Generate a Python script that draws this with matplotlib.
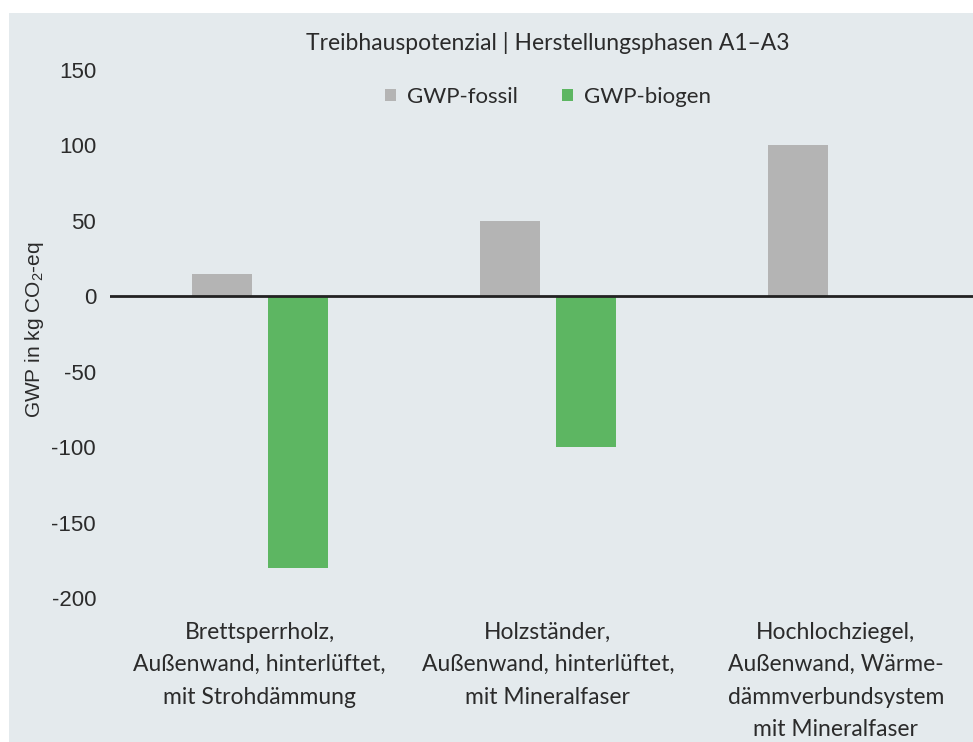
import matplotlib
matplotlib.use("Agg")
import matplotlib.pyplot as plt
from matplotlib.patches import Rectangle
import numpy as np

# Daten: GWP je Außenwandaufbau (Herstellungsphasen A1-A3)
categories = [
    "Brettsperrholz,\nAußenwand, hinterlüftet,\nmit Strohdämmung",
    "Holzständer,\nAußenwand, hinterlüftet,\nmit Mineralfaser",
    "Hochlochziegel,\nAußenwand, Wärme-\ndämmverbundsystem\nmit Mineralfaser",
]
gwp_fossil = [15, 50, 100]
gwp_biogen = [-180, -100, 0]
series_names = ["GWP-fossil", "GWP-biogen"]
yticks = [-200, -150, -100, -50, 0, 50, 100, 150]
title = "Treibhauspotenzial | Herstellungsphasen A1–A3"

BG = "#e4eaed"
GRAY = "#b4b4b4"
GREEN = "#5db662"
TEXT = "#2b2b2b"

plt.rcParams["mathtext.fontset"] = "custom"
plt.rcParams["mathtext.rm"] = "Liberation Sans"
plt.rcParams["mathtext.it"] = "Liberation Sans"

W, H = 973, 742
fig = plt.figure(figsize=(W / 100, H / 100), dpi=100, facecolor="white")
# hellgraue Fläche, oben und links ein schmaler weißer Rand
fig.patches.append(Rectangle((9 / W, 0), 1, 1 - 13 / H, transform=fig.transFigure,
                             facecolor=BG, edgecolor="none", zorder=-10))

ax = fig.add_axes([110 / W, 1 - 598 / H, (W - 110) / W, (598 - 70) / H])
ax.set_facecolor("none")

x = np.arange(len(categories))
width = 0.208
off = 0.132
b1 = ax.bar(x - off, gwp_fossil, width, color=GRAY, label=series_names[0])
b2 = ax.bar(x + off, gwp_biogen, width, color=GREEN, label=series_names[1])
ax.axhline(0, color="#222222", lw=2, zorder=3)

ax.set_xlim(-0.52, 2.476)
ax.set_ylim(-200, 150)
ax.set_yticks(yticks)
ax.set_yticklabels([str(v) for v in yticks], family="Liberation Sans", fontsize=16, color=TEXT)
ax.set_xticks(x)
ax.set_xticklabels(categories, family="Lato", fontsize=16.5, color=TEXT, linespacing=1.68, va="top")
ax.tick_params(axis="y", length=0, pad=10)
ax.tick_params(axis="x", length=0, pad=17)
for s in ax.spines.values():
    s.set_visible(False)

fig.text(35 / W, 1 - 330 / H, "GWP in kg CO$_2$-eq", rotation=90, ha="center", va="center",
         family="Liberation Sans", fontsize=15, color=TEXT)
fig.text(548 / W, 1 - 43 / H, title, ha="center", va="center", family="Lato",
         fontsize=16.5, color=TEXT)
fig.legend(handles=[b1, b2], loc="center", bbox_to_anchor=(548 / W, 1 - 97 / H),
           ncol=2, frameon=False, prop={"family": "Lato", "size": 16},
           labelcolor=TEXT, handlelength=0.5, handleheight=0.5, handletextpad=0.5,
           columnspacing=2.0)

fig.savefig("out.png", dpi=100, facecolor="white")
